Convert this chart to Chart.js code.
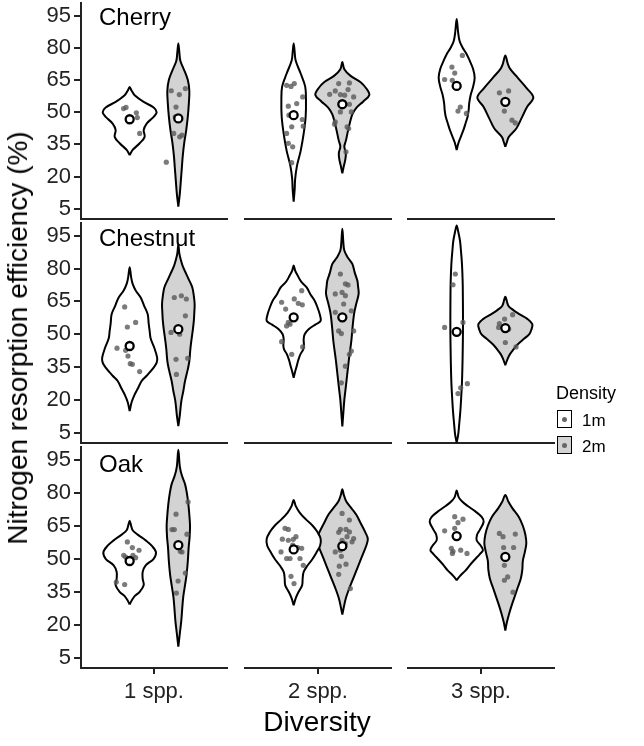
<!DOCTYPE html>
<html>
<head>
<meta charset="utf-8">
<script src="https://cdn.jsdelivr.net/npm/chart.js@4/dist/chart.umd.min.js"></script>
<style>
  body { margin: 0; background: #fff; width: 644px; height: 746px; position: relative; overflow: hidden;
         font-family: "Liberation Sans", Arial, sans-serif; color: #000; }
  canvas { position: absolute; }
  .lbl { position: absolute; white-space: nowrap; line-height: 1; }
  .key { position: absolute; width: 15px; height: 18px; border: 1.5px solid #000; box-sizing: border-box; }
  .key span { position: absolute; left: 50%; top: 50%; width: 5px; height: 5px; margin: -2.5px 0 0 -2.5px;
              border-radius: 50%; background: #666; }
</style>
</head>
<body>
<div id="wrap"></div>
<script>
// 分類
const species = ['Cherry', 'Chestnut', 'Oak'];      // 行
const diversity = ['1 spp.', '2 spp.', '3 spp.'];   // 列
const densities = ['1m', '2m'];
const yTicks = [5, 20, 35, 50, 65, 80, 95];

// バイオリンの輪郭: [値, 密度] （下端→上端）、パネル順 = 行*3 + 列
const violin1m = [
  [[30,0],[32.4,3],[35.5,10],[38.5,15],[41.6,14],[44.7,17],[47.8,24],[50,27],[52.2,24],[54.8,14],[57.9,5],[60,2],[61.7,0]],
  [[8.4,0],[14,1],[19,1.5],[25,3.3],[32,7],[40,10],[48,12],[56,12.3],[62,11.5],[68,7],[74,2],[78,1],[82,0]],
  [[32.4,0],[36,2],[39,4.5],[42,7],[45,9],[48,11],[51,12],[54,12.5],[58,14],[62,16.5],[66,18],[70,16.5],[74,13],[77,10],[80,6],[83,3],[87,1.5],[93.4,0]],
  [[14.8,0],[19,2],[22.4,5],[25,8],[28.6,12],[31,17],[34.7,24],[37,27],[39.3,27.5],[43.9,24.5],[48,21],[51.5,20],[55,19],[59.2,18],[63,14.5],[66.8,11],[70,6],[73,3],[76,1.5],[80.6,0]],
  [[30.1,0],[33,1.5],[35.4,3],[38,4.5],[40.8,6.7],[43,9.5],[44.6,10.3],[47.7,10],[50,11],[52.3,15],[54.5,22],[56.1,27],[59.2,26],[62,24],[65.3,21],[68,17],[71.4,13],[74,7.5],[76.8,4],[79,1.5],[81.4,0]],
  [[0.5,0],[4,1.5],[8.7,2.5],[15,3.7],[20.9,4.5],[28,5.3],[36.2,5.8],[44,6.1],[51.5,6.3],[60,6.3],[66.8,6.2],[74,6],[82.1,5.3],[88,4.3],[92.8,3.3],[97,1.5],[99.7,0]],
  [[29.2,0],[31,2],[33,5],[35,10],[38,14],[41,13],[44,13],[47,16],[50,24],[53,26.3],[56,22],[58.4,16],[61,8],[63,3],[65,1.5],[67.3,0]],
  [[28.8,0],[32,2],[35,5],[38,8.5],[41,9],[44,10],[47,14],[50,19],[53,23],[56,26.5],[59,27],[62,24],[65,19],[68,12],[71,6],[74,2],[76.7,0]],
  [[40.2,0],[42,3],[44.7,9],[47,13],[49.3,17.5],[52,23],[53.9,26.3],[56,24],[58.4,20],[61,20.5],[63,23],[66.8,27],[69,25],[71.4,19],[74,11],[76,5.5],[78,2],[81,0]]
];
const violin2m = [
  [[6,0],[12,1.5],[18,2.5],[24,3.5],[30,4.5],[36,6],[42,8],[48,9.5],[54,10.5],[60,11],[65,9.5],[70,5.5],[74,2],[78,1],[82,0]],
  [[21.6,0],[25,1.5],[28,3],[31,3.5],[34,2],[37,3.7],[41,5.5],[45,7.5],[49,10],[52,14],[55,21],[58,27],[61,24],[64,18],[67,8],[70,2],[73.3,0]],
  [[33.9,0],[36,1.5],[38.5,3.5],[42.4,11],[47,16],[52.4,21.7],[56.8,28],[61,21.7],[66.4,11.7],[70,5],[72.5,2.5],[76.4,0]],
  [[7.9,0],[13,1.5],[19.4,3],[24,5],[28.6,6.7],[34,9.5],[37.7,11],[43,12],[46.9,13],[52,14.5],[56.1,15.5],[60,16],[63.8,16.3],[67.5,15.5],[71.4,14],[75,10.5],[77.5,8],[81,4.5],[84,2.5],[87,1],[91,0]],
  [[7.9,0],[14,1],[20,2],[24,3],[30,4.5],[36.2,6],[40,7],[46.9,9],[52,10],[59.2,11.7],[64,14],[68.4,16.3],[72,15.7],[74.5,15],[78,12.5],[82.1,10],[85,5.5],[88.2,2],[92,1],[98.2,0]],
  [[35.9,0],[39,2.5],[40.8,4.5],[43,8],[45.4,12.5],[48,19],[50,24],[52,26],[54.6,27],[57,22],[59.2,14],[61,8],[63,3],[67.1,0]],
  [[10,0],[16,1.5],[22,3],[28,4],[33,5],[38,6.7],[43,8.3],[49,9.5],[55,10.3],[60,11.3],[65,11.7],[70,11],[75,10],[80,8.5],[84,6.7],[88,3.5],[92,1.5],[99.6,0]],
  [[24.6,0],[28,1.5],[32,3.5],[36,6.5],[40,10],[44,13.5],[48,17],[52,20.5],[56,24],[59,25.5],[62,23],[66,18.5],[70,14],[73,9],[76,4],[79,1.5],[81.6,0]],
  [[17.3,0],[21,1.5],[25,3.8],[29,6.5],[33,9.5],[37,12.5],[41,15.5],[45,17],[49,17.5],[53,19.5],[57,21],[61,20],[65,17.5],[69,13.5],[73,7],[76,3],[79,0]]
];

// 個別の観測値とジッター量
const points1m = [
  [51.7,52.2,49.7,47.5,40.1],
  [62.5,62.0,63.3,57.1,52.8,54.0,48.6,46.6,43.5,43.2,40.1,35.5,33.9,26.5],
  [71.0,68.2,65.2,64.8,76.4,52.4,50.5,49.4],
  [62.5,53.3,55.4,43.6,42.6,40.0,36.5,36.2,32.9],
  [64.6,61.5,66.1,64.1,63.4,69.9,55.4,53.8,54.6,46.6,40.8,44.2],
  [77.5,72.6,53.1,55.4,27.4,25.5,22.9],
  [57.7,55.1,53.9,51.6,50.8,50.5,50.0,51.6,39.4,38.3],
  [63.8,63.3,58.9,58.4,60.0,56.2,55.1,54.7,53.1,50.1,50.1,50.1,47.0,42.0,38.7,58.8],
  [69.1,68.0,66.4,63.8,62.7,54.7,53.9,52.4,52.4,53.4]
];
const jitter1m = [
  [-0.05,-0.03,0.055,0.063,0.082],
  [-0.058,-0.022,0.005,0.074,-0.044,0.025,-0.039,0.071,0.079,-0.016,-0.058,-0.044,-0.008,-0.016],
  [-0.039,-0.016,-0.099,-0.036,0.047,0.030,0.011,0.080],
  [-0.041,-0.019,0.049,-0.104,-0.033,-0.014,0.005,0.022,0.082],
  [-0.099,-0.066,0.005,0.038,0.071,0.066,-0.044,-0.058,-0.030,-0.099,-0.016,0.074],
  [-0.011,-0.030,-0.099,0.052,0.088,0.033,0.011],
  [-0.019,0.022,0.077,-0.049,-0.033,0.049,-0.014,0.027,-0.110,-0.041],
  [-0.071,-0.044,-0.093,-0.044,0.019,-0.008,0.033,0.066,-0.104,-0.058,-0.030,0.052,0.079,-0.022,0.003,-0.003],
  [-0.016,0.052,0.011,-0.016,-0.099,-0.044,0.033,-0.035,0.085,-0.030]
];
const points2m = [
  [60.0,58.2,61.0,52.4,47.8,40.1,38.5,39.3,26.7],
  [58.3,59.9,63.3,63.6,60.5,57.9,58.2,57.1,53.7,45.5,44.4,50.1,50.1,42.4,31.6,43.2,54.0],
  [59.0,59.9,50.5,46.3,45.0],
  [66.8,67.6,66.1,58.4,50.8,50.0,38.5,39.0,31.6],
  [77.5,73.0,72.5,69.1,68.4,67.6,60.0,60.7,51.5,50.3,51.5,42.3,40.8,35.4,27.8,63.8],
  [54.9,56.9,58.9,53.1,46.2,44.2,52.3],
  [75.9,70.3,63.3,63.3,61.2,53.4,53.1,43.5,39.9,34.4],
  [70.6,67.6,63.3,63.3,62.0,62.2,60.0,59.2,57.7,53.1,53.9,56.9,51.1,46.6,47.5,42.9,36.4,58.4],
  [61.5,60.0,61.2,55.1,55.1,47.0,41.7,40.2,34.8,50.1]
];
const jitter2m = [
  [-0.058,0.008,0.058,-0.019,-0.025,-0.038,0.011,0.03,-0.099],
  [-0.104,-0.058,-0.030,0.058,0.047,0.019,-0.016,0.093,0.058,-0.058,-0.064,-0.016,0.074,0.052,0.030,0.039,-0.002],
  [-0.049,0.027,-0.008,0.055,0.082],
  [-0.033,0.025,0.066,0.058,-0.060,0.011,-0.019,0.077,-0.016],
  [-0.016,0.025,0.047,-0.002,-0.058,0.025,-0.058,0.074,-0.030,-0.008,0.093,0.074,0.058,0.025,-0.008,0.011],
  [-0.049,-0.006,0.060,-0.055,0,0.088,0.027],
  [0.080,-0.019,-0.052,-0.033,0.071,0.016,0.030,0.058,-0.002,-0.016],
  [-0.002,0.058,-0.016,0.030,-0.030,0.058,0.039,0.093,0.080,-0.058,-0.016,0.025,-0.008,-0.025,0.030,-0.030,0.066,-0.002],
  [-0.049,-0.019,0.082,-0.014,0.068,-0.008,0.019,-0.008,0.063,0]
];

// 平均値
const means1m = [46.7, 48.6, 62.2, 44.6, 57.7, 51.1, 49.0, 54.2, 60.3];
const means2m = [47.1, 53.7, 54.8, 52.3, 57.7, 52.8, 56.2, 55.7, 50.8];

// レイアウト
const PANEL_LEFT = [81, 245, 408];
const PANEL_W = 146;
const PANEL_TOP = [3, 223, 447];
const PANEL_BOTTOM = [219, 443, 668];
const PAD = 16;
const Y_AXIS_W = 81;
const X_AXIS_H = 42;
const DODGE = [0.8, 1.2];          // 1m / 2m の位置
const DENSITY_SCALE = 1 / 121.7;   // 密度 → x軸単位
const FILL = ['#ffffff', '#d3d3d3'];
const AXIS_COLOR = '#222222';
const TEXT_COLOR = '#222222';
const FONT = '"Liberation Sans", Arial, sans-serif';

const wrap = document.getElementById('wrap');

function outline(center, profile) {
  const right = profile.map(([v, d]) => ({ x: center + d * DENSITY_SCALE, y: v }));
  const left = profile.slice(0, -1).reverse().map(([v, d]) => ({ x: center - d * DENSITY_SCALE, y: v }));
  return right.concat(left);
}

function makePanel(r, c) {
  const p = r * 3 + c;
  const cLeft = c === 0 ? 0 : PANEL_LEFT[c] - PAD;
  const cTop = PANEL_TOP[r] - PAD;
  const cRight = PANEL_LEFT[c] + PANEL_W + PAD;
  const cBottom = PANEL_BOTTOM[r] + (r === 2 ? X_AXIS_H : PAD);

  const canvas = document.createElement('canvas');
  canvas.width = cRight - cLeft;
  canvas.height = cBottom - cTop;
  canvas.style.left = cLeft + 'px';
  canvas.style.top = cTop + 'px';
  wrap.appendChild(canvas);

  const datasets = [];
  const violins = [violin1m[p], violin2m[p]];
  const pts = [points1m[p], points2m[p]];
  const jit = [jitter1m[p], jitter2m[p]];
  const means = [means1m[p], means2m[p]];

  densities.forEach((dn, k) => {
    datasets.push({
      label: dn + ' violin',
      data: outline(DODGE[k], violins[k]),
      showLine: true,
      fill: 'shape',
      backgroundColor: FILL[k],
      borderColor: '#000',
      borderWidth: 2,
      tension: 0.35,
      pointRadius: 0,
      clip: false,
      order: 3
    });
    datasets.push({
      label: dn + ' points',
      data: pts[k].map((v, i) => ({ x: DODGE[k] + jit[k][i], y: v })),
      pointRadius: 2.6,
      pointBackgroundColor: 'rgba(90,90,90,0.8)',
      pointBorderWidth: 0,
      clip: false,
      order: 2
    });
    datasets.push({
      label: dn + ' mean',
      data: [{ x: DODGE[k], y: means[k] }],
      pointRadius: 4,
      pointBackgroundColor: '#fff',
      pointBorderColor: '#000',
      pointBorderWidth: 2.3,
      clip: false,
      order: 1
    });
  });

  new Chart(canvas, {
    type: 'scatter',
    data: { datasets },
    options: {
      responsive: false,
      animation: false,
      devicePixelRatio: 1,
      events: [],
      layout: { padding: { left: c === 0 ? 0 : PAD, right: PAD, top: PAD, bottom: r === 2 ? 0 : PAD } },
      plugins: { legend: { display: false }, tooltip: { enabled: false } },
      scales: {
        x: {
          type: 'linear',
          min: 0.4,
          max: 1.6,
          display: true,
          afterBuildTicks: s => { s.ticks = [{ value: 1 }]; },
          afterFit: s => { s.height = r === 2 ? X_AXIS_H : 0; },
          border: { display: true, color: AXIS_COLOR, width: 2 },
          grid: { display: r === 2, drawOnChartArea: false, drawTicks: true, tickLength: 6, color: AXIS_COLOR, lineWidth: 2 },
          ticks: {
            display: r === 2,
            padding: 5,
            maxRotation: 0,
            color: TEXT_COLOR,
            font: { family: FONT, size: 22 },
            callback: () => diversity[c]
          }
        },
        y: {
          type: 'linear',
          min: 0.3,
          max: 100.8,
          display: c === 0,
          afterBuildTicks: s => { s.ticks = yTicks.map(v => ({ value: v })); },
          afterFit: s => { s.width = c === 0 ? Y_AXIS_W : 0; },
          border: { display: true, color: AXIS_COLOR, width: 2 },
          grid: { display: true, drawOnChartArea: false, drawTicks: true, tickLength: 7, color: AXIS_COLOR, lineWidth: 2 },
          ticks: { padding: 3, color: TEXT_COLOR, font: { family: FONT, size: 22 } }
        }
      }
    }
  });
}

for (let r = 0; r < 3; r++) {
  for (let c = 0; c < 3; c++) makePanel(r, c);
}

// テキスト
function addText(txt, left, top, size, extra) {
  const d = document.createElement('div');
  d.className = 'lbl';
  d.textContent = txt;
  d.style.left = left + 'px';
  d.style.top = top + 'px';
  d.style.fontSize = size + 'px';
  if (extra) Object.assign(d.style, extra);
  document.body.appendChild(d);
  return d;
}

const stripTop = [5, 226, 452];
species.forEach((s, r) => addText(s, 99, stripTop[r], 24));

// 軸タイトル
addText('Diversity', 317, 708, 28, { transform: 'translateX(-50%)' });
addText('Nitrogen resorption efficiency (%)', 18, 338, 28,
  { transform: 'translate(-50%,-50%) rotate(-90deg)' });

// 凡例
addText('Density', 556, 384, 18);
densities.forEach((dn, k) => {
  const key = document.createElement('div');
  key.className = 'key';
  key.style.left = '557px';
  key.style.top = (410 + k * 26) + 'px';
  key.style.background = FILL[k];
  key.appendChild(document.createElement('span'));
  document.body.appendChild(key);
  addText(dn, 582, 412 + k * 26, 17);
});
</script>
</body>
</html>
